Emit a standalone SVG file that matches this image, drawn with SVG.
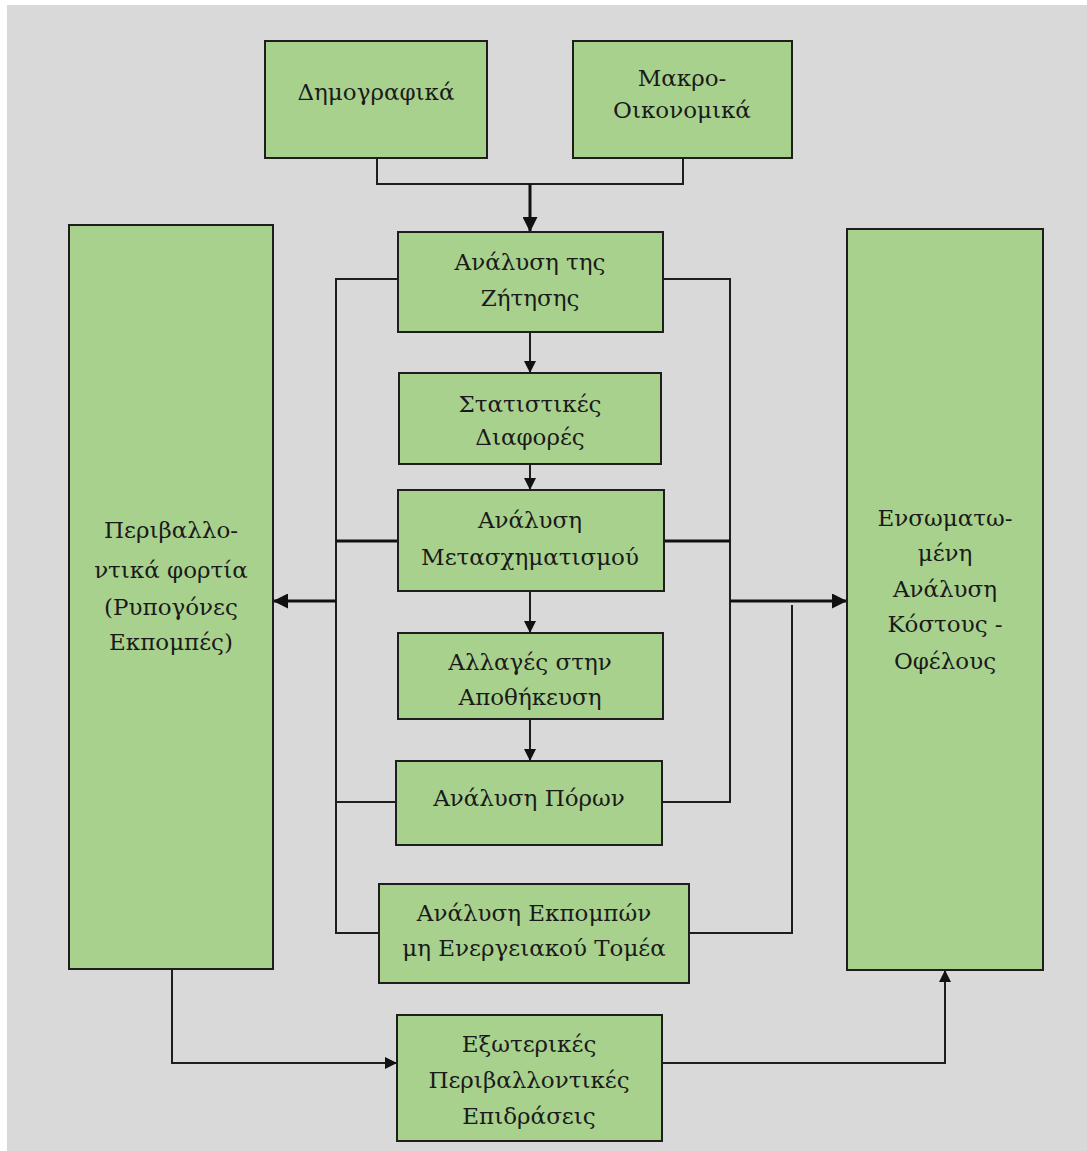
<svg xmlns="http://www.w3.org/2000/svg" width="1087" height="1151" viewBox="0 0 1087 1151">
<style>
.box{fill:#a9d18e;stroke:#1e1e1e;stroke-width:2}
text{font-family:"DejaVu Serif","Liberation Serif",serif;font-size:23px;fill:#1a1a1a;text-anchor:middle}
.c{fill:none;stroke:#1e1e1e;stroke-width:2}
.ck{fill:none;stroke:#111;stroke-width:3}
</style>
<defs>
<marker id="ah" viewBox="0 0 10 10" refX="10" refY="5" markerWidth="5" markerHeight="5" orient="auto" markerUnits="strokeWidth">
<path d="M0,0 L10,5 L0,10 z" fill="#111"/>
</marker>
<marker id="ahs" viewBox="0 0 10 10" refX="10" refY="5" markerWidth="6" markerHeight="6" orient="auto" markerUnits="strokeWidth">
<path d="M0,0 L10,5 L0,10 z" fill="#111"/>
</marker>
</defs>
<rect x="7" y="5" width="1080" height="1146" fill="#d9d9d9"/>
<g id="connectors">
<path class="c" d="M377,158 V184 H683 V158"/>
<path class="ck" d="M530,184 V232" marker-end="url(#ah)"/>
<path class="c" d="M530,332 V373" marker-end="url(#ahs)"/>
<path class="c" d="M530,464 V490" marker-end="url(#ahs)"/>
<path class="c" d="M530,591 V633" marker-end="url(#ahs)"/>
<path class="c" d="M530,719 V761" marker-end="url(#ahs)"/>
<path class="c" d="M398,279 H336 V933 H379"/>
<path class="c" d="M396,802 H336"/>
<path class="ck" d="M398,541 H336"/>
<path class="ck" d="M336,601 H273" marker-end="url(#ah)"/>
<path class="c" d="M663,279 H730 V802 H662"/>
<path class="ck" d="M664,541 H730"/>
<path class="ck" d="M730,601 H847" marker-end="url(#ah)"/>
<path class="c" d="M792,605 V933 H689"/>
<path class="c" d="M172,969 V1063 H397" marker-end="url(#ahs)"/>
<path class="c" d="M662,1063 H945 V970" marker-end="url(#ahs)"/>
</g>
<g id="n-demo"><rect class="box" x="265" y="41" width="222" height="117"/><text x="376" y="100">Δημογραφικά</text></g>
<g id="n-macro"><rect class="box" x="573" y="41" width="219" height="117"/><text x="682" y="86">Μακρο-</text><text x="682" y="118">Οικονομικά</text></g>
<g id="n-demand"><rect class="box" x="398" y="232" width="265" height="100"/><text x="530" y="270">Ανάλυση της</text><text x="530" y="306">Ζήτησης</text></g>
<g id="n-stat"><rect class="box" x="399" y="373" width="262" height="91"/><text x="530" y="412">Στατιστικές</text><text x="530" y="445">Διαφορές</text></g>
<g id="n-trans"><rect class="box" x="398" y="490" width="266" height="101"/><text x="530" y="528">Ανάλυση</text><text x="530" y="565">Μετασχηματισμού</text></g>
<g id="n-storage"><rect class="box" x="398" y="633" width="265" height="86"/><text x="530" y="670">Αλλαγές στην</text><text x="530" y="705">Αποθήκευση</text></g>
<g id="n-resources"><rect class="box" x="396" y="761" width="266" height="84"/><text x="529" y="806">Ανάλυση Πόρων</text></g>
<g id="n-emissions"><rect class="box" x="379" y="884" width="310" height="99"/><text x="534" y="921">Ανάλυση Εκπομπών</text><text x="534" y="956">μη Ενεργειακού Τομέα</text></g>
<g id="n-external"><rect class="box" x="397" y="1015" width="265" height="126"/><text x="529" y="1052">Εξωτερικές</text><text x="529" y="1088">Περιβαλλοντικές</text><text x="529" y="1124">Επιδράσεις</text></g>
<g id="n-envloads"><rect class="box" x="69" y="225" width="204" height="744"/><text x="171" y="538">Περιβαλλο-</text><text x="171" y="578">ντικά φορτία</text><text x="171" y="615">(Ρυπογόνες</text><text x="171" y="650">Εκπομπές)</text></g>
<g id="n-cba"><rect class="box" x="847" y="229" width="196" height="741"/><text x="945" y="526">Ενσωματω-</text><text x="945" y="561">μένη</text><text x="945" y="597">Ανάλυση</text><text x="945" y="632">Κόστους -</text><text x="945" y="669">Οφέλους</text></g>
</svg>
